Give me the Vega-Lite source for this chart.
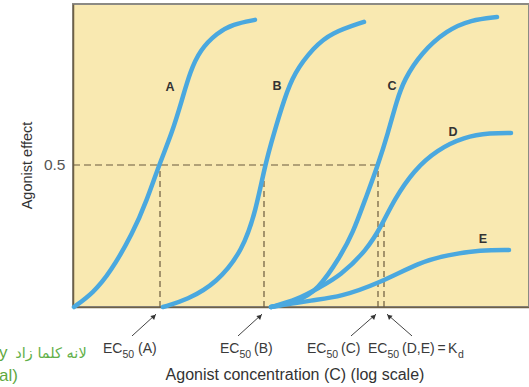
{
  "$schema": "https://vega.github.io/schema/vega-lite/v6.json",
  "width": 456,
  "height": 303,
  "autosize": {"type": "none"},
  "padding": {"left": 73, "top": 4, "right": 0, "bottom": 80},
  "background": "white",
  "config": {
    "view": {"fill": "#f9e9b1", "stroke": "#8c8a84", "strokeWidth": 2},
    "font": "Liberation Sans"
  },
  "datasets": {
    "curves": [
      {"curve": "A", "x": 0.1, "y": 0},
      {"curve": "A", "x": 2.0, "y": 0.049},
      {"curve": "A", "x": 3.7, "y": 0.12},
      {"curve": "A", "x": 6.0, "y": 0.261},
      {"curve": "A", "x": 7.4, "y": 0.377},
      {"curve": "A", "x": 8.6, "y": 0.5},
      {"curve": "A", "x": 9.9, "y": 0.613},
      {"curve": "A", "x": 10.9, "y": 0.729},
      {"curve": "A", "x": 11.7, "y": 0.827},
      {"curve": "A", "x": 12.7, "y": 0.905},
      {"curve": "A", "x": 14.4, "y": 0.965},
      {"curve": "A", "x": 16.0, "y": 0.996},
      {"curve": "A", "x": 18.2, "y": 1.011},
      {"curve": "B", "x": 9.0, "y": 0},
      {"curve": "B", "x": 11.4, "y": 0.025},
      {"curve": "B", "x": 14.4, "y": 0.085},
      {"curve": "B", "x": 17.0, "y": 0.201},
      {"curve": "B", "x": 18.3, "y": 0.342},
      {"curve": "B", "x": 19.2, "y": 0.5},
      {"curve": "B", "x": 20.1, "y": 0.613},
      {"curve": "B", "x": 21.1, "y": 0.729},
      {"curve": "B", "x": 22.1, "y": 0.824},
      {"curve": "B", "x": 24.1, "y": 0.915},
      {"curve": "B", "x": 25.8, "y": 0.965},
      {"curve": "B", "x": 29.1, "y": 1.004},
      {"curve": "C", "x": 19.8, "y": 0},
      {"curve": "C", "x": 22.4, "y": 0.018},
      {"curve": "C", "x": 24.5, "y": 0.06},
      {"curve": "C", "x": 26.7, "y": 0.176},
      {"curve": "C", "x": 28.0, "y": 0.261},
      {"curve": "C", "x": 29.2, "y": 0.377},
      {"curve": "C", "x": 30.5, "y": 0.5},
      {"curve": "C", "x": 31.5, "y": 0.613},
      {"curve": "C", "x": 32.4, "y": 0.729},
      {"curve": "C", "x": 33.1, "y": 0.799},
      {"curve": "C", "x": 34.8, "y": 0.894},
      {"curve": "C", "x": 37.4, "y": 0.975},
      {"curve": "C", "x": 39.8, "y": 1.011},
      {"curve": "C", "x": 42.4, "y": 1.021},
      {"curve": "D", "x": 19.8, "y": 0},
      {"curve": "D", "x": 22.4, "y": 0.025},
      {"curve": "D", "x": 24.7, "y": 0.07},
      {"curve": "D", "x": 26.7, "y": 0.109},
      {"curve": "D", "x": 29.4, "y": 0.201},
      {"curve": "D", "x": 30.9, "y": 0.289},
      {"curve": "D", "x": 32.1, "y": 0.377},
      {"curve": "D", "x": 34.1, "y": 0.482},
      {"curve": "D", "x": 36.4, "y": 0.553},
      {"curve": "D", "x": 39.1, "y": 0.599},
      {"curve": "D", "x": 41.8, "y": 0.613},
      {"curve": "D", "x": 43.8, "y": 0.613},
      {"curve": "E", "x": 19.8, "y": 0},
      {"curve": "E", "x": 24.1, "y": 0.025},
      {"curve": "E", "x": 26.7, "y": 0.035},
      {"curve": "E", "x": 30.7, "y": 0.085},
      {"curve": "E", "x": 34.7, "y": 0.158},
      {"curve": "E", "x": 37.4, "y": 0.183},
      {"curve": "E", "x": 40.8, "y": 0.201},
      {"curve": "E", "x": 43.6, "y": 0.201}
    ],
    "vdash": [
      {"x": 8.7, "y": 0, "y2": 0.5},
      {"x": 19.1, "y": 0, "y2": 0.5},
      {"x": 30.5, "y": 0, "y2": 0.5},
      {"x": 31.1, "y": 0, "y2": 0.3}
    ],
    "hdash": [{"x": 0, "x2": 30.5, "y": 0.5}],
    "arrows": [
      {"x": 5.9, "y": -0.102, "x2": 8.3, "y2": -0.025},
      {"x": 16.5, "y": -0.102, "x2": 18.9, "y2": -0.025},
      {"x": 27.8, "y": -0.102, "x2": 30.3, "y2": -0.025},
      {"x": 33.9, "y": -0.102, "x2": 31.4, "y2": -0.025}
    ],
    "headsRight": [
      {"x": 8.1, "y": -0.033},
      {"x": 18.7, "y": -0.033},
      {"x": 30.1, "y": -0.033}
    ],
    "headsLeft": [{"x": 31.6, "y": -0.033}],
    "curveLabels": [
      {"label": "A", "x": 9.7, "y": 0.775},
      {"label": "B", "x": 20.4, "y": 0.778},
      {"label": "C", "x": 31.9, "y": 0.778},
      {"label": "D", "x": 38.0, "y": 0.617},
      {"label": "E", "x": 41.0, "y": 0.239}
    ],
    "mainText": [
      {"t": "EC", "x": 3.0, "y": -0.162},
      {"t": "(A)", "x": 6.5, "y": -0.162},
      {"t": "EC", "x": 14.7, "y": -0.162},
      {"t": "(B)", "x": 18.1, "y": -0.162},
      {"t": "EC", "x": 23.4, "y": -0.162},
      {"t": "(C)", "x": 26.8, "y": -0.162},
      {"t": "EC", "x": 29.5, "y": -0.162},
      {"t": "(D,E)", "x": 32.9, "y": -0.162},
      {"t": "=", "x": 36.45, "y": -0.162},
      {"t": "K", "x": 37.5, "y": -0.162}
    ],
    "subText": [
      {"t": "50", "x": 4.95, "y": -0.18},
      {"t": "50", "x": 16.65, "y": -0.18},
      {"t": "50", "x": 25.35, "y": -0.18},
      {"t": "50", "x": 31.45, "y": -0.18},
      {"t": "d", "x": 38.5, "y": -0.18}
    ],
    "arabic": [{"t": "لانه كلما زاد", "x": -2.2, "y": -0.18}],
    "latinGreen": [
      {"t": "y", "x": -7.4, "y": -0.18},
      {"t": "al)", "x": -7.4, "y": -0.262}
    ]
  },
  "encoding": {
    "x": {
      "field": "x", "type": "quantitative",
      "scale": {"domain": [0, 45.6], "nice": false, "zero": false},
      "axis": {
        "labels": false, "ticks": false, "grid": false,
        "domain": true, "domainColor": "#6e6046", "domainWidth": 1.5,
        "title": "Agonist concentration (C) (log scale)",
        "titleFontSize": 16, "titleFontWeight": "normal", "titleColor": "#333333",
        "titleX": 221.5, "titleY": 72, "titleAlign": "center", "titleBaseline": "alphabetic"
      }
    },
    "y": {
      "field": "y", "type": "quantitative",
      "scale": {"domain": [0, 1.0669], "nice": false, "zero": false},
      "axis": {
        "values": [0.5], "labelExpr": "'0.5'", "labelFontSize": 15.5, "labelColor": "#555555",
        "ticks": false, "labelPadding": 8, "grid": false,
        "domain": true, "domainColor": "#6e6046", "domainWidth": 1.5,
        "title": "Agonist effect", "titleFontSize": 14.5, "titleFontWeight": "normal", "titleColor": "#333333",
        "titleAngle": 270, "titleX": -46, "titleY": 161, "titleAlign": "center", "titleBaseline": "middle"
      }
    }
  },
  "layer": [
    {
      "data": {"name": "vdash"},
      "mark": {"type": "rule", "color": "#6b5b3e", "strokeWidth": 1.2, "strokeDash": [6, 4]},
      "encoding": {"y2": {"field": "y2"}}
    },
    {
      "data": {"name": "hdash"},
      "mark": {"type": "rule", "color": "#6b5b3e", "strokeWidth": 1.2, "strokeDash": [7, 4]},
      "encoding": {"x2": {"field": "x2"}}
    },
    {
      "data": {"name": "curves"},
      "mark": {"type": "line", "color": "#4aa8df", "strokeWidth": 4.5, "strokeCap": "round", "interpolate": "basis"},
      "encoding": {"detail": {"field": "curve"}}
    },
    {
      "data": {"name": "arrows"},
      "mark": {"type": "rule", "color": "#444444", "strokeWidth": 1},
      "encoding": {"x2": {"field": "x2"}, "y2": {"field": "y2"}}
    },
    {
      "data": {"name": "headsRight"},
      "mark": {"type": "point", "shape": "triangle-up", "filled": true, "color": "#333333", "size": 30, "angle": 47, "opacity": 1},
      "encoding": {}
    },
    {
      "data": {"name": "headsLeft"},
      "mark": {"type": "point", "shape": "triangle-up", "filled": true, "color": "#333333", "size": 30, "angle": 311, "opacity": 1},
      "encoding": {}
    },
    {
      "data": {"name": "curveLabels"},
      "mark": {"type": "text", "fontSize": 12.5, "fontWeight": "bold", "color": "#333333", "align": "center", "baseline": "middle"},
      "encoding": {"text": {"field": "label"}}
    },
    {
      "data": {"name": "mainText"},
      "mark": {"type": "text", "fontSize": 14, "color": "#3a3a3a", "align": "left", "baseline": "alphabetic"},
      "encoding": {"text": {"field": "t"}}
    },
    {
      "data": {"name": "subText"},
      "mark": {"type": "text", "fontSize": 10.5, "color": "#3a3a3a", "align": "left", "baseline": "alphabetic"},
      "encoding": {"text": {"field": "t"}}
    },
    {
      "data": {"name": "arabic"},
      "mark": {"type": "text", "fontSize": 14.5, "color": "#62b04a", "align": "center", "baseline": "alphabetic", "font": "DejaVu Sans"},
      "encoding": {"text": {"field": "t"}}
    },
    {
      "data": {"name": "latinGreen"},
      "mark": {"type": "text", "fontSize": 17, "color": "#5fa83f", "align": "left", "baseline": "alphabetic"},
      "encoding": {"text": {"field": "t"}}
    }
  ]
}
